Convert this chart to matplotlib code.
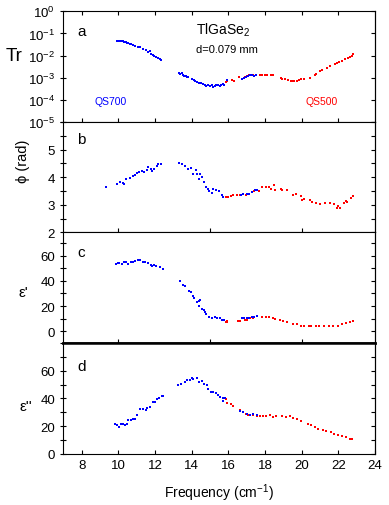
import numpy as np
import matplotlib
matplotlib.use("Agg")
import matplotlib.pyplot as plt
from matplotlib.ticker import FixedLocator, NullLocator, MultipleLocator

plt.rcParams['font.family'] = ['Liberation Sans', 'DejaVu Sans']
plt.rcParams['mathtext.fontset'] = 'custom'
plt.rcParams['mathtext.rm'] = 'Liberation Sans'

# ---- panel a: transmission (QS700 blue, QS500 red)
fa_blue = [9.94, 10.0, 10.06, 10.12, 10.18, 10.25, 10.3, 10.36, 10.42, 10.48, 10.55, 10.62, 10.7,
           10.8, 10.9, 11.05, 11.2, 11.35, 11.5, 11.6, 11.7, 11.8, 11.88, 11.95, 12.05, 12.15, 12.25, 12.3,
           13.3, 13.38, 13.45, 13.52, 13.6, 13.67, 13.75, 13.82, 14.0, 14.1, 14.2, 14.3, 14.4, 14.5,
           14.6, 14.7, 14.8, 14.9, 15.0, 15.1, 15.17, 15.25, 15.35, 15.45, 15.54, 15.62, 15.7, 15.78, 15.93,
           16.72, 16.85, 16.95, 17.08, 17.2, 17.3, 17.4, 17.5]
tr_blue = [0.046, 0.045, 0.046, 0.045, 0.044, 0.044, 0.041, 0.040, 0.039, 0.036, 0.038, 0.033, 0.035,
           0.030, 0.028, 0.025, 0.024, 0.020, 0.017, 0.015, 0.016, 0.012, 0.011, 0.010, 0.0089, 0.0079, 0.0071, 0.006,
           1.6e-3, 1.5e-3, 1.7e-3, 1.3e-3, 1.2e-3, 1.15e-3, 1.1e-3, 1.1e-3, 8.5e-4, 7.5e-4, 7.2e-4, 6.2e-4, 6.0e-4, 5.8e-4,
           5.0e-4, 4.8e-4, 4.2e-4, 4.5e-4, 4.4e-4, 4.5e-4, 3.8e-4, 4.3e-4, 4.8e-4, 4.5e-4, 4.2e-4, 4.8e-4, 5.0e-4, 4.7e-4, 7.5e-4,
           9.0e-4, 9.5e-4, 1.05e-3, 1.15e-3, 1.35e-3, 1.3e-3, 1.25e-3, 1.3e-3]
fa_red = [15.86, 15.95, 16.2, 16.3, 16.6, 16.72, 16.9, 17.03, 17.15, 17.36, 17.5, 17.72, 17.85, 18.0, 18.1,
          18.3, 18.45, 18.85, 18.95, 19.1, 19.25, 19.4, 19.5, 19.6, 19.72, 19.85, 19.99, 20.15, 20.44, 20.7,
          20.8, 21.0, 21.1, 21.4, 21.55, 21.8, 21.9, 22.05, 22.2, 22.35, 22.5, 22.65, 22.75, 22.8]
tr_red = [6.3e-4, 7.1e-4, 7.6e-4, 7.4e-4, 1.07e-3, 8.9e-4, 1.05e-3, 1.17e-3, 1.26e-3, 1.35e-3, 1.26e-3, 1.32e-3,
          1.32e-3, 1.35e-3, 1.26e-3, 1.26e-3, 1.26e-3, 9.3e-4, 8.9e-4, 8.3e-4, 7.9e-4, 7.1e-4, 6.8e-4, 6.8e-4,
          7.4e-4, 7.6e-4, 8.7e-4, 8.9e-4, 1.0e-3, 1.26e-3, 1.41e-3, 2.0e-3, 2.24e-3, 2.8e-3, 3.2e-3, 4.0e-3,
          4.4e-3, 5.0e-3, 5.9e-3, 6.9e-3, 7.9e-3, 8.9e-3, 1.0e-2, 1.12e-2]

# ---- panel b: phase
fb_blue = [9.32, 9.94, 10.09, 10.23, 10.32, 10.41, 10.63, 10.78, 10.9, 11.03, 11.14, 11.27, 11.39, 11.54,
           11.63, 11.76, 11.83, 11.94, 12.08, 12.18, 12.3,
           13.3, 13.45, 13.63, 13.81, 13.96, 14.09, 14.23, 14.27, 14.45, 14.41, 14.58, 14.67, 14.78, 14.9,
           14.96, 15.08, 15.17, 15.32, 15.5, 15.63, 15.72,
           16.67, 16.81, 16.99, 17.14, 17.27, 17.45, 17.57]
phi_blue = [3.64, 3.77, 3.83, 3.80, 3.77, 3.94, 3.98, 4.04, 4.07, 4.14, 4.17, 4.23, 4.19, 4.25,
            4.36, 4.31, 4.23, 4.28, 4.40, 4.46, 4.48,
            4.52, 4.48, 4.42, 4.29, 4.32, 4.13, 4.25, 4.10, 4.13, 3.95, 4.01, 3.83, 3.65, 3.59,
            3.49, 3.43, 3.59, 3.53, 3.49, 3.35, 3.29,
            3.35, 3.39, 3.40, 3.41, 3.45, 3.52, 3.53]
fb_red = [15.86, 15.99, 16.12, 16.23, 16.48, 16.63, 16.95, 17.39, 17.66, 17.81, 18.08, 18.23, 18.35, 18.48,
          18.55, 18.86, 18.95, 19.21, 19.54, 19.68, 19.99, 20.04, 20.13, 20.44, 20.57, 20.8, 20.99, 21.26,
          21.53, 21.77, 21.9, 21.99, 22.08, 22.3, 22.4, 22.48, 22.71, 22.8]
phi_red = [3.28, 3.28, 3.33, 3.36, 3.34, 3.35, 3.37, 3.49, 3.50, 3.64, 3.66, 3.66, 3.57, 3.71,
           3.55, 3.59, 3.52, 3.53, 3.37, 3.41, 3.31, 3.19, 3.20, 3.17, 3.11, 3.08, 3.02, 3.06,
           3.05, 3.02, 2.90, 2.96, 2.90, 3.05, 3.13, 3.10, 3.25, 3.31]

# ---- panel c: eps'
fc_blue = [9.87, 9.96, 10.05, 10.18, 10.3, 10.41, 10.5, 10.67, 10.81, 10.92, 11.05, 11.18, 11.36, 11.47,
           11.63, 11.76, 11.85, 11.96, 12.05, 12.27, 12.41,
           13.36, 13.54, 13.63, 13.85, 13.94, 14.05, 14.12, 14.3, 14.41, 14.45, 14.39, 14.54, 14.67, 14.72,
           14.78, 14.96, 15.08, 15.26, 15.39, 15.54, 15.66, 15.75,
           16.72, 16.85, 16.99, 17.14, 17.3, 17.39, 17.54]
e1_blue = [53.9, 54.7, 54.1, 53.9, 55.5, 55.5, 53.6, 54.9, 55.5, 56.0, 56.5, 56.5, 55.5, 55.5,
           54.1, 52.8, 52.0, 52.8, 52.0, 51.5, 49.3,
           40.0, 36.8, 36.0, 32.0, 30.9, 28.3, 26.1, 23.5, 24.0, 24.5, 20.0, 17.3, 16.8, 14.9,
           13.6, 11.5, 10.1, 10.9, 10.1, 10.1, 9.1, 9.1,
           10.1, 10.1, 10.1, 10.7, 11.2, 11.5, 12.0]
fc_red = [15.86, 15.9, 15.95, 16.54, 16.63, 16.9, 16.99, 17.17, 17.35, 17.81, 18.08, 18.23, 18.41, 18.53,
          18.81, 18.99, 19.21, 19.54, 19.72, 19.99, 20.12, 20.41, 20.53, 20.77, 20.95, 21.21, 21.5, 21.72,
          21.99, 22.22, 22.44, 22.62, 22.8]
e1_red = [6.9, 8.0, 7.2, 8.0, 8.0, 9.1, 9.1, 10.4, 10.7, 11.2, 10.9, 11.2, 10.1, 9.3,
          8.5, 8.0, 7.5, 5.9, 5.3, 4.3, 4.0, 4.0, 3.7, 3.7, 3.7, 4.0, 4.3, 4.0,
          4.3, 5.9, 6.1, 7.2, 8.0]

# ---- panel d: eps''
fd_blue = [9.81, 9.9, 10.02, 10.13, 10.23, 10.36, 10.45, 10.54, 10.67, 10.78, 10.9, 11.03, 11.18, 11.32,
           11.49, 11.58, 11.72, 11.87, 11.99, 12.08, 12.23, 12.36, 12.45,
           13.23, 13.41, 13.63, 13.77, 13.9, 13.99, 14.08, 14.27, 14.41, 14.54, 14.67, 14.81, 14.9, 15.03,
           15.17, 15.32, 15.44, 15.57, 15.68, 15.71, 15.81,
           16.63, 16.81, 16.99, 17.17, 17.35, 17.54]
e2_blue = [21.3, 20.6, 19.4, 21.3, 21.8, 20.6, 21.3, 24.2, 24.7, 24.9, 25.4, 27.8, 32.2, 32.2,
           31.5, 33.4, 33.9, 37.3, 37.3, 39.4, 40.4, 41.6, 41.6,
           49.6, 50.1, 51.5, 53.0, 53.2, 54.4, 54.0, 54.4, 52.0, 52.5, 50.1, 49.6, 46.5, 44.8,
           44.3, 43.6, 42.3, 41.1, 40.4, 38.0, 40.4,
           31.0, 30.2, 29.0, 28.3, 29.0, 28.3]
fd_red = [15.86, 15.95, 16.12, 16.23, 16.63, 16.81, 16.95, 17.08, 17.32, 17.54, 17.72, 17.9, 18.08, 18.26,
          18.44, 18.62, 18.9, 19.17, 19.35, 19.54, 19.72, 19.99, 20.35, 20.53, 20.71, 20.9, 21.17, 21.35,
          21.59, 21.77, 21.99, 22.22, 22.44, 22.66, 22.75]
e2_red = [39.4, 37.0, 35.6, 34.6, 31.5, 30.2, 29.0, 28.3, 27.8, 27.3, 27.3, 27.1, 27.1, 27.8,
          26.6, 27.1, 27.1, 26.9, 27.3, 25.9, 25.4, 23.7, 21.3, 20.6, 19.4, 18.1, 16.9, 16.5,
          15.7, 14.5, 13.3, 12.6, 12.1, 10.9, 10.4]

blue = '#0000ff'
red = '#ff0000'
ms = 1.9

fig = plt.figure(figsize=(3.89, 5.06), dpi=100)
gs = fig.add_gridspec(4, 1, left=0.163, right=0.964, bottom=0.1014, top=0.9757, hspace=0)
axes = [fig.add_subplot(gs[i]) for i in range(4)]
ax_a, ax_b, ax_c, ax_d = axes

# red (QS500) first, blue (QS700) drawn on top where they overlap
ax_a.semilogy(fa_red, tr_red, 's', color=red, ms=ms, mew=0)
ax_a.semilogy(fa_blue, tr_blue, 's', color=blue, ms=ms, mew=0)
ax_b.plot(fb_red, phi_red, 's', color=red, ms=ms, mew=0)
ax_b.plot(fb_blue, phi_blue, 's', color=blue, ms=ms, mew=0)
ax_c.plot(fc_red, e1_red, 's', color=red, ms=ms, mew=0)
ax_c.plot(fc_blue, e1_blue, 's', color=blue, ms=ms, mew=0)
ax_d.plot(fd_red, e2_red, 's', color=red, ms=ms, mew=0)
ax_d.plot(fd_blue, e2_blue, 's', color=blue, ms=ms, mew=0)

for ax in axes:
    ax.set_xlim(7, 24)
    for s in ax.spines.values():
        s.set_linewidth(0.8)
    ax.tick_params(axis='y', which='both', direction='inout', left=True, right=False,
                   length=5, width=0.8, labelsize=9.5)
    ax.tick_params(axis='x', which='both', direction='in', length=3, width=0.8, labelsize=9.5)
    ax.xaxis.set_minor_locator(NullLocator())

ax_a.set_ylim(1e-5, 1)
ax_a.yaxis.set_major_locator(FixedLocator([1e-5, 1e-4, 1e-3, 1e-2, 1e-1, 1]))
ax_a.yaxis.set_minor_locator(NullLocator())
ax_a.set_xticks([8, 10, 12, 14, 16, 18, 20, 22])
ax_a.tick_params(axis='x', top=True, bottom=True, labelbottom=False)

ax_b.set_ylim(2, 6)
ax_b.set_yticks([2, 3, 4, 5])
ax_b.yaxis.set_minor_locator(MultipleLocator(0.5))
ax_b.set_xticks([10, 15, 20])
ax_b.tick_params(axis='x', top=False, bottom=True, labelbottom=False)

ax_c.set_ylim(-9.6, 78.7)
ax_c.set_yticks([0, 20, 40, 60])
ax_c.yaxis.set_minor_locator(MultipleLocator(10))
ax_c.set_xticks([10, 15, 20])
ax_c.tick_params(axis='x', top=False, bottom=True, labelbottom=False)
ax_c.spines['bottom'].set_linewidth(1.8)

ax_d.set_ylim(0, 80)
ax_d.set_yticks([0, 20, 40, 60])
ax_d.yaxis.set_minor_locator(MultipleLocator(10))
ax_d.set_xticks([8, 10, 12, 14, 16, 18, 20, 22, 24])
ax_d.tick_params(axis='x', top=False, bottom=True, labelbottom=True)
ax_d.spines['top'].set_linewidth(1.8)
ax_d.set_xlabel('Frequency (cm$^{-1}$)', fontsize=10, labelpad=8)

# inward ticks on the right-hand spine of every panel
for ax in axes:
    ax2 = ax.secondary_yaxis('right')
    ax2.tick_params(axis='y', which='both', direction='in', length=3, width=0.8, labelright=False)
    if ax is ax_a:
        ax2.yaxis.set_major_locator(FixedLocator([1e-5, 1e-4, 1e-3, 1e-2, 1e-1, 1]))
        ax2.yaxis.set_minor_locator(NullLocator())
    else:
        ax2.set_yticks(ax.get_yticks())
        ax2.yaxis.set_minor_locator(MultipleLocator(0.5 if ax is ax_b else 10))

# panel letters
for ax, lab, yb in zip(axes, ['a', 'b', 'c', 'd'], [0.79, 0.805, 0.79, 0.76]):
    ax.text(0.045, yb, lab, transform=ax.transAxes, fontsize=11, va='baseline', ha='left')

ax_a.text(0.512, 0.795, 'TlGaSe$_2$', transform=ax_a.transAxes, fontsize=10, ha='center', va='baseline')
ax_a.text(0.525, 0.63, 'd=0.079 mm', transform=ax_a.transAxes, fontsize=8, ha='center', va='baseline')
ax_a.text(0.151, 0.165, 'QS700', transform=ax_a.transAxes, fontsize=7.5, ha='center', va='baseline', color=blue)
ax_a.text(0.829, 0.165, 'QS500', transform=ax_a.transAxes, fontsize=7.5, ha='center', va='baseline', color=red)

# y labels
ax_a.text(-0.157, 0.6, 'Tr', transform=ax_a.transAxes, fontsize=13.5, ha='center', va='center')
ax_b.text(-0.13, 0.65, 'ϕ (rad)', transform=ax_b.transAxes, fontsize=10.5, ha='center', va='center',
          rotation=90)
ax_c.text(-0.13, 0.46, "ε'", transform=ax_c.transAxes, fontsize=11, ha='center', va='center')
ax_d.text(-0.12, 0.43, "ε''", transform=ax_d.transAxes, fontsize=11, ha='center', va='center')

fig.savefig('out.png', dpi=100)
